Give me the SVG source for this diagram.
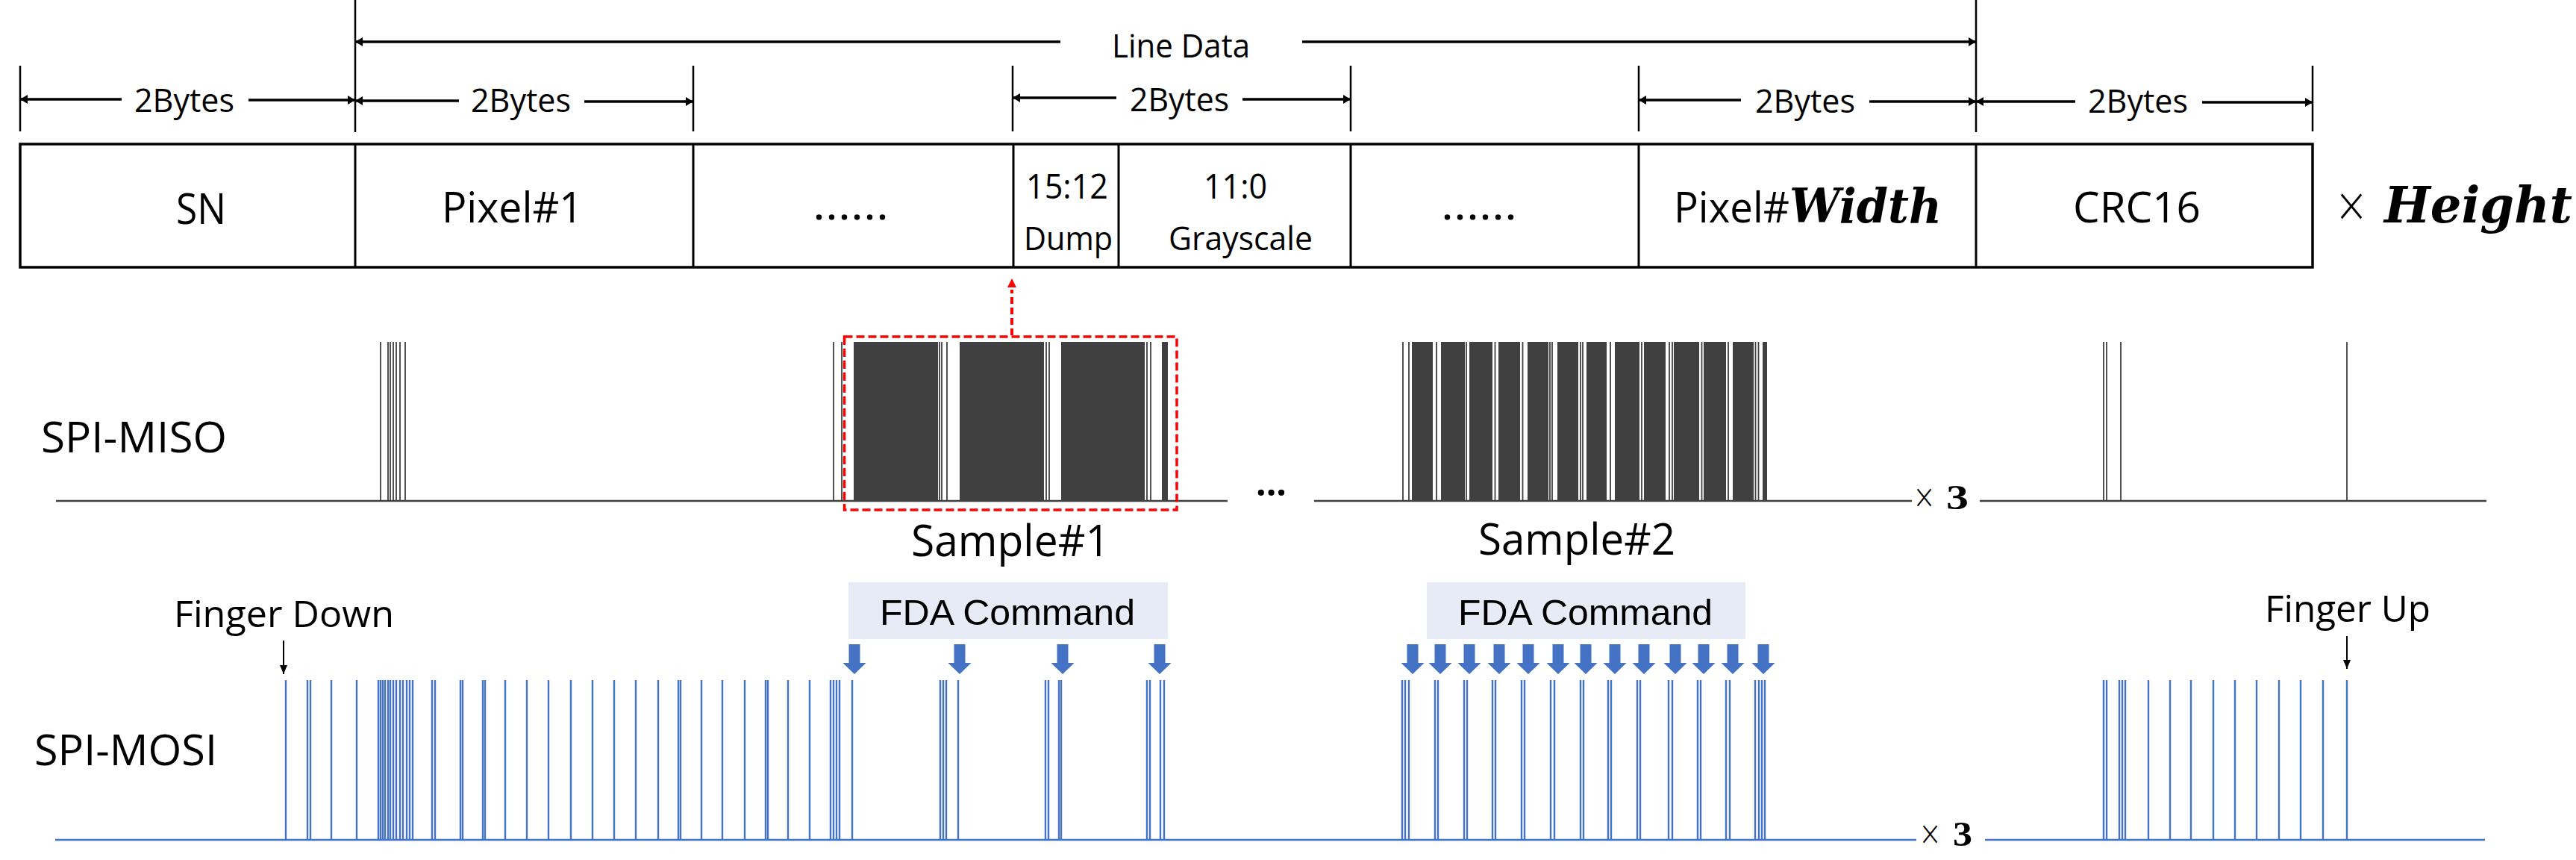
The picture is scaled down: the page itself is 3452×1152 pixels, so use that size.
<svg xmlns="http://www.w3.org/2000/svg" xmlns:xlink="http://www.w3.org/1999/xlink" width="3452" height="1152" viewBox="0 0 3452 1152">
<style>
.t{font-family:"Open Sans","Noto Sans",sans-serif;fill:#000}
.x{font-family:"DejaVu Sans","Open Sans",sans-serif;font-weight:300;fill:#000}
.a{font-family:"Liberation Sans",Arial,sans-serif;fill:#000}
.m{font-family:"DejaVu Serif","Liberation Serif",serif;font-weight:bold;font-style:italic;fill:#000}
.b3{font-family:"Liberation Serif","DejaVu Serif",serif;font-weight:bold;fill:#000}
.dim{stroke:#000;stroke-width:3.3;fill:none;marker-end:url(#ah)}
.tick{stroke:#000;stroke-width:2.5}
.cellline{stroke:#000;stroke-width:3}
.miso{stroke:#404040;stroke-width:1.8;fill:none}
.misob{fill:#404040}
.mosi{stroke:#4472C4;stroke-width:2.4;fill:none}
.base{stroke:#404040;stroke-width:2.5}
.baseb{stroke:#4472C4;stroke-width:2.5}
.fda{fill:#E6EBF6}
.barrow{fill:#4472C4}
.thin{stroke:#000;stroke-width:2;fill:none;marker-end:url(#ahs)}
</style>
<defs>
<marker id="ah" viewBox="0 0 10 12" refX="10" refY="6" markerWidth="10" markerHeight="12" markerUnits="userSpaceOnUse" orient="auto"><path d="M0,0 L10,6 L0,12 Z" fill="#000"/></marker>
<marker id="ahs" viewBox="0 0 12 10" refX="12" refY="5" markerWidth="12" markerHeight="10" markerUnits="userSpaceOnUse" orient="auto"><path d="M0,0 L12,5 L0,10 Z" fill="#000"/></marker>
<path id="ba" d="M-7.5,0 H7.5 V25 H15.5 L0,40 L-15.5,25 H-7.5 Z"/>
</defs>
<rect width="3452" height="1152" fill="#fff"/>

<g id="frame">
<rect x="27" y="193" width="3072" height="165" fill="none" stroke="#000" stroke-width="3.5"/>
<path class="cellline" d="M476,193V358 M929,193V358 M1358,193V358 M1499,193V358 M1810,193V358 M2196,193V358 M2648,193V358"/>
<path class="tick" d="M27,88V176 M476,0V177 M929,88V176 M1357,88V176 M1810,88V176 M2196,88V176 M2648,0V177 M3099,88V176"/>
</g>

<g id="cell-sn"><text class="t" x="236" y="300" font-size="56" textLength="67" lengthAdjust="spacingAndGlyphs">SN</text></g>
<g id="cell-pixel1"><text class="t" x="592" y="298" font-size="56" textLength="189" lengthAdjust="spacingAndGlyphs">Pixel#1</text></g>
<g id="cell-dots1"><text class="t" x="1089" y="294" font-size="56" textLength="102" lengthAdjust="spacingAndGlyphs">......</text></g>
<g id="cell-dump"><text class="t" x="1375" y="266" font-size="45" textLength="110" lengthAdjust="spacingAndGlyphs">15:12</text><text class="t" x="1372" y="335" font-size="43" textLength="119" lengthAdjust="spacingAndGlyphs">Dump</text></g>
<g id="cell-gray"><text class="t" x="1613" y="266" font-size="45" textLength="85" lengthAdjust="spacingAndGlyphs">11:0</text><text class="t" x="1566" y="335" font-size="43" textLength="193" lengthAdjust="spacingAndGlyphs">Grayscale</text></g>
<g id="cell-dots2"><text class="t" x="1931" y="294" font-size="56" textLength="102" lengthAdjust="spacingAndGlyphs">......</text></g>
<g id="cell-pixelw"><text x="2243" y="298"><tspan class="t" font-size="56" textLength="155" lengthAdjust="spacingAndGlyphs">Pixel#</tspan><tspan class="m" x="2398" font-size="64" textLength="204" lengthAdjust="spacingAndGlyphs">Width</tspan></text></g>
<g id="cell-crc"><text class="t" x="2778" y="298" font-size="56" textLength="171" lengthAdjust="spacingAndGlyphs">CRC16</text></g>
<g id="height-label"><text class="x" x="3128" y="297" font-size="66" textLength="46" lengthAdjust="spacingAndGlyphs">×</text><text class="m" x="3195" y="298" font-size="67" textLength="252" lengthAdjust="spacingAndGlyphs">Height</text></g>

<g id="dim-labels">
<text class="t" x="1490" y="77" font-size="43" textLength="185" lengthAdjust="spacingAndGlyphs">Line Data</text>
<text class="t" x="180" y="150" font-size="43" textLength="134" lengthAdjust="spacingAndGlyphs">2Bytes</text>
<text class="t" x="631" y="150" font-size="43" textLength="134" lengthAdjust="spacingAndGlyphs">2Bytes</text>
<text class="t" x="1514" y="149" font-size="43" textLength="133" lengthAdjust="spacingAndGlyphs">2Bytes</text>
<text class="t" x="2352" y="151" font-size="43" textLength="134" lengthAdjust="spacingAndGlyphs">2Bytes</text>
<text class="t" x="2798" y="151" font-size="43" textLength="134" lengthAdjust="spacingAndGlyphs">2Bytes</text>
</g>

<g id="connectors">
<path class="dim" d="M1421,56H476"/><path class="dim" d="M1745,56H2648"/>
<path class="dim" d="M163,133H27"/><path class="dim" d="M333,134H476"/>
<path class="dim" d="M615,135H476"/><path class="dim" d="M783,136H929"/>
<path class="dim" d="M1496,131H1357"/><path class="dim" d="M1665,133H1810"/>
<path class="dim" d="M2333,134H2196"/><path class="dim" d="M2505,136H2648"/>
<path class="dim" d="M2781,136H2648"/><path class="dim" d="M2951,137H3099"/>
<path d="M1356,449V388" stroke="#FF0000" stroke-width="4" stroke-dasharray="9 5" fill="none"/>
<path d="M1356,373 L1362,385 L1350,385 Z" fill="#FF0000"/>
<path class="thin" d="M380,858V903"/>
<path class="thin" d="M3145,852V896"/>
<g class="barrow">
<use xlink:href="#ba" x="1145" y="863"/><use xlink:href="#ba" x="1286" y="863"/><use xlink:href="#ba" x="1424" y="863"/><use xlink:href="#ba" x="1554" y="863"/>
<use xlink:href="#ba" x="1893" y="863"/><use xlink:href="#ba" x="1930" y="863"/><use xlink:href="#ba" x="1969" y="863"/><use xlink:href="#ba" x="2009" y="863"/><use xlink:href="#ba" x="2048" y="863"/><use xlink:href="#ba" x="2088" y="863"/><use xlink:href="#ba" x="2125" y="863"/><use xlink:href="#ba" x="2164" y="863"/><use xlink:href="#ba" x="2203" y="863"/><use xlink:href="#ba" x="2245" y="863"/><use xlink:href="#ba" x="2283" y="863"/><use xlink:href="#ba" x="2322" y="863"/><use xlink:href="#ba" x="2363" y="863"/>
</g>
</g>

<g id="spi-miso">
<text class="t" x="55" y="606" font-size="57" textLength="249" lengthAdjust="spacingAndGlyphs">SPI-MISO</text>
<path class="base" d="M75,671H1645 M1761,671H2562 M2653,671H3332"/>
<path class="miso" d="M510,458V671 M520,458V671 M523,458V671 M527,458V671 M531,458V671 M536,458V671 M543,458V671 M1117,458V671 M1128,458V671 M1259,458V671 M1262,458V671 M1269,458V671 M1402,458V671 M1406,458V671 M1537,458V671 M1542,458V671 M1880,458V671 M1888,458V671 M1925,458V671 M1965,458V671 M2003.5,458V671 M2040.5,458V671 M2077,458V671 M2080,458V671 M2118,458V671 M2121,458V671 M2158,458V671 M2200,458V671 M2237,458V671 M2241,458V671 M2280.5,458V671 M2316,458V671 M2352.5,458V671 M2356.5,458V671 M2819,458V671 M2823,458V671 M2842,458V671 M3145,458V671"/>
<path class="misob" d="M1144,458H1257V671H1144Z M1286,458H1399V671H1286Z M1422,458H1534V671H1422Z M1557,458H1565V671H1557Z M1892,458H1920V671H1892Z M1931,458H1963V671H1931Z M1969,458H2000V671H1969Z M2008,458H2037V671H2008Z M2047,458H2075V671H2047Z M2087,458H2115V671H2087Z M2126,458H2153V671H2126Z M2164,458H2197V671H2164Z M2203,458H2232V671H2203Z M2243,458H2277V671H2243Z M2283,458H2313V671H2283Z M2322,458H2350V671H2322Z M2362,458H2368V671H2362Z"/>
<text class="t" x="1683" y="664" font-size="50" font-weight="bold" textLength="41" lengthAdjust="spacingAndGlyphs">...</text>
<text class="x" x="2563" y="681" font-size="46" textLength="31" lengthAdjust="spacingAndGlyphs">×</text>
<text class="b3" x="2608" y="682" font-size="47" textLength="30" lengthAdjust="spacingAndGlyphs">3</text>
</g>

<g id="sample-box">
<rect x="1131.5" y="451" width="445.5" height="232" fill="none" stroke="#FF0000" stroke-width="3.5" stroke-dasharray="11 5"/>
</g>
<g id="sample1-label"><text class="t" x="1221" y="745" font-size="58" textLength="266" lengthAdjust="spacingAndGlyphs">Sample#1</text></g>
<g id="sample2-label"><text class="t" x="1981" y="743" font-size="58" textLength="264" lengthAdjust="spacingAndGlyphs">Sample#2</text></g>

<g id="fda1"><rect class="fda" x="1137" y="780" width="428" height="76"/><text class="a" x="1179" y="837" font-size="49" textLength="342" lengthAdjust="spacingAndGlyphs">FDA Command</text></g>
<g id="fda2"><rect class="fda" x="1912" y="780" width="427" height="76"/><text class="a" x="1954" y="837" font-size="49" textLength="341" lengthAdjust="spacingAndGlyphs">FDA Command</text></g>

<g id="finger-down"><text class="t" x="233" y="840" font-size="49" textLength="295" lengthAdjust="spacingAndGlyphs">Finger Down</text></g>
<g id="finger-up"><text class="t" x="3035" y="833" font-size="49" textLength="222" lengthAdjust="spacingAndGlyphs">Finger Up</text></g>

<g id="spi-mosi">
<text class="t" x="46" y="1025" font-size="57" textLength="245" lengthAdjust="spacingAndGlyphs">SPI-MOSI</text>
<path class="baseb" d="M74,1125H2568 M2660,1125H3330"/>
<path class="mosi" d="M383,911V1125 M412,911V1125 M416,911V1125 M444,911V1125 M478,911V1125 M507,911V1125 M510,911V1125 M513,911V1125 M516,911V1125 M520,911V1125 M523,911V1125 M527,911V1125 M531,911V1125 M536,911V1125 M540,911V1125 M545,911V1125 M549,911V1125 M553,911V1125 M579,911V1125 M583,911V1125 M617,911V1125 M620,911V1125 M647,911V1125 M650,911V1125 M677,911V1125 M706,911V1125 M735,911V1125 M765,911V1125 M794,911V1125 M823,911V1125 M852,911V1125 M882,911V1125 M909,911V1125 M912,911V1125 M940,911V1125 M968,911V1125 M998,911V1125 M1026,911V1125 M1029,911V1125 M1056,911V1125 M1085,911V1125 M1113,911V1125 M1117,911V1125 M1121,911V1125 M1125,911V1125 M1142,911V1125 M1260,911V1125 M1264,911V1125 M1268,911V1125 M1284,911V1125 M1401,911V1125 M1405,911V1125 M1419,911V1125 M1422,911V1125 M1537,911V1125 M1541,911V1125 M1555,911V1125 M1560,911V1125 M1879,911V1125 M1883,911V1125 M1888,911V1125 M1923,911V1125 M1927,911V1125 M1962,911V1125 M1966,911V1125 M2000,911V1125 M2004,911V1125 M2039,911V1125 M2043,911V1125 M2078,911V1125 M2083,911V1125 M2118,911V1125 M2122,911V1125 M2155,911V1125 M2159,911V1125 M2194,911V1125 M2198,911V1125 M2236,911V1125 M2241,911V1125 M2275,911V1125 M2279,911V1125 M2313,911V1125 M2318,911V1125 M2352,911V1125 M2357,911V1125 M2361,911V1125 M2365,911V1125 M2819,911V1125 M2823,911V1125 M2840,911V1125 M2844,911V1125 M2848,911V1125 M2879,911V1125 M2908,911V1125 M2936,911V1125 M2966,911V1125 M2995,911V1125 M3024,911V1125 M3054,911V1125 M3083,911V1125 M3113,911V1125 M3145,911V1125"/>
<text class="x" x="2571" y="1132" font-size="46" textLength="31" lengthAdjust="spacingAndGlyphs">×</text>
<text class="b3" x="2617" y="1133" font-size="47" textLength="26" lengthAdjust="spacingAndGlyphs">3</text>
</g>
</svg>
